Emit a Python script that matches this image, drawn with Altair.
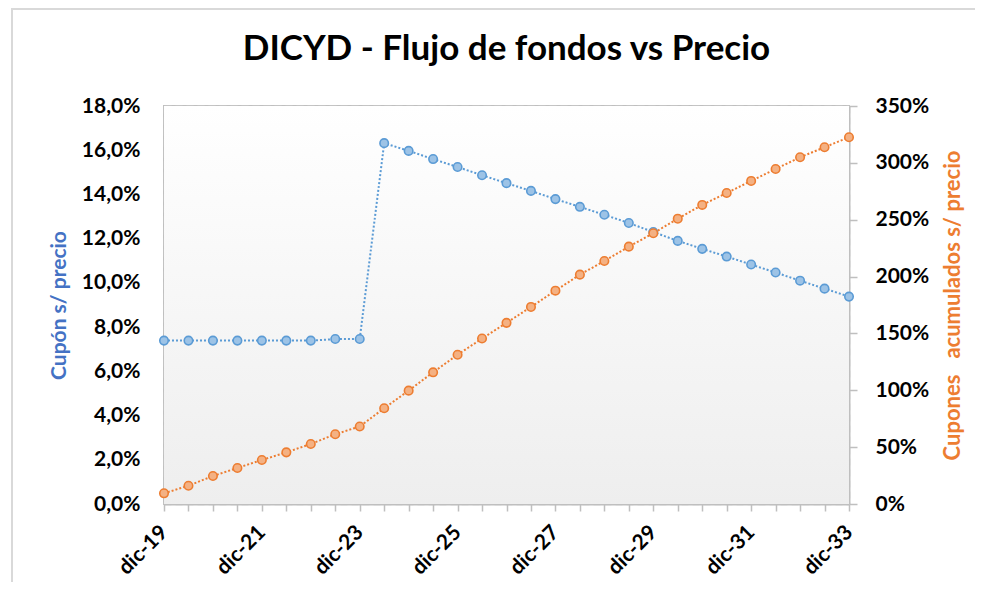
import altair as alt
import pandas as pd

fechas = ["dic-19", "jun-20", "dic-20", "jun-21", "dic-21", "jun-22", "dic-22",
          "jun-23", "dic-23", "jun-24", "dic-24", "jun-25", "dic-25", "jun-26",
          "dic-26", "jun-27", "dic-27", "jun-28", "dic-28", "jun-29", "dic-29",
          "jun-30", "dic-30", "jun-31", "dic-31", "jun-32", "dic-32", "jun-33",
          "dic-33"]

cupon = [7.39, 7.39, 7.39, 7.39, 7.39, 7.39, 7.39, 7.46, 7.46,
         16.32, 15.97, 15.60, 15.24, 14.87, 14.51, 14.16, 13.79, 13.44,
         13.08, 12.71, 12.30, 11.90, 11.54, 11.19, 10.83, 10.47, 10.10,
         9.74, 9.38]

acumulado = [9.4, 16.1, 24.6, 31.7, 38.7, 45.4, 52.8, 61.3, 68.2,
             84.2, 99.7, 115.8, 131.3, 145.5, 159.3, 173.3, 187.6, 201.7,
             213.7, 226.3, 238.1, 250.9, 263.0, 273.5, 284.1, 294.6, 304.9,
             313.7, 322.5]

izq_ticks = [0, 2, 4, 6, 8, 10, 12, 14, 16, 18]
der_ticks = [0, 50, 100, 150, 200, 250, 300, 350]

df = pd.DataFrame({"fecha": fechas, "cupon": cupon, "acum": acumulado})

FONT = "Lato"
W, H = 685, 398
BLUE_L, BLUE_F = "#5b9bd5", "#9dc3e6"
ORG_L, ORG_F = "#ed7d31", "#f4b183"
GRID = "#d4d4d4"
AX = "#bfbfbf"
LFS = 21

major = "(slice(datum.value,0,3)=='dic' && toNumber(slice(datum.value,4))%2==1)"

x_enc = alt.X(
    "fecha:O", sort=fechas,
    scale=alt.Scale(type="point", padding=0),
    axis=alt.Axis(
        title=None, labelAngle=-45, labelAlign="right", labelBaseline="middle",
        labelPadding=18, labelOverlap=False,
        labelExpr=major + " ? datum.value : ''",
        labelFont=FONT, labelFontSize=LFS, labelFontWeight="bold", labelColor="black",
        tickSize=7, tickColor=AX, tickWidth=1.5,
        domainColor=AX, domainWidth=2,
        grid=True, gridColor=GRID, gridDash=[7, 4], gridWidth=1.5,
        gridOpacity={"condition": {"test": major, "value": 1}, "value": 0},
    ),
)

y_left = alt.Y(
    "cupon:Q", scale=alt.Scale(domain=[0, 18], nice=False),
    axis=alt.Axis(
        orient="left", values=izq_ticks,
        labelExpr="replace(format(datum.value,'.1f'),'.',',') + '%'",
        labelFont=FONT, labelFontSize=LFS, labelFontWeight="bold", labelColor="black",
        labelPadding=24, ticks=False,
        domainColor=AX, domainWidth=2,
        grid=True, gridColor=GRID, gridDash=[7, 4], gridWidth=1.5,
        title="Cupón s/ precio", titleColor="#4472c4", titleFont=FONT,
        titleFontSize=21, titleFontWeight="bold", titlePadding=12,
    ),
)

y_right = alt.Y(
    "acum:Q", scale=alt.Scale(domain=[0, 350], nice=False),
    axis=alt.Axis(
        orient="right", values=der_ticks,
        labelExpr="format(datum.value,'.0f') + '%'",
        labelFont=FONT, labelFontSize=LFS, labelFontWeight="bold", labelColor="black",
        labelPadding=18, tickSize=8, tickColor=AX, tickWidth=1.5,
        domainColor=AX, domainWidth=2, grid=False,
        title="Cupones\u00a0\u00a0\u00a0acumulados s/ precio", titleColor=ORG_L, titleFont=FONT,
        titleFontSize=22, titleFontWeight="bold", titlePadding=36, titleAngle=270,
    ),
)

base = alt.Chart(df)

bg = alt.Chart(df).mark_rect(
    fill=alt.LinearGradient(
        gradient="linear", x1=0, x2=0, y1=0, y2=1,
        stops=[alt.GradientStop(offset=0, color="#ffffff"),
               alt.GradientStop(offset=1, color="#eeeeee")],
    )
).encode(x=alt.value(0), x2=alt.value(W), y=alt.value(0), y2=alt.value(H))

border = alt.Chart(df).mark_rect(fill=None, stroke="#d9d9d9", strokeWidth=2).encode(
    x=alt.value(-152), x2=alt.value(840), y=alt.value(-97), y2=alt.value(500)
)

blue = alt.layer(
    base.mark_line(color=BLUE_L, strokeDash=[2, 2], strokeWidth=2).encode(x=x_enc, y=y_left),
    base.mark_circle(fill=BLUE_F, stroke=BLUE_L, strokeWidth=1.6, size=72, opacity=1).encode(x=x_enc, y=y_left),
)

orange = alt.layer(
    base.mark_line(color=ORG_L, strokeDash=[2, 2], strokeWidth=2).encode(x=x_enc, y=y_right),
    base.mark_circle(fill=ORG_F, stroke=ORG_L, strokeWidth=1.6, size=72, opacity=1).encode(x=x_enc, y=y_right),
)

chart = alt.layer(border, bg, blue, orange).resolve_scale(y="independent").properties(
    width=W, height=H,
    autosize=alt.AutoSizeParams(type="none"),
    padding={"left": 156, "top": 98, "right": 126, "bottom": 78},
    title=alt.TitleParams(
        "DICYD - Flujo de fondos vs Precio", font=FONT, fontSize=35, fontWeight="bold",
        color="black", anchor="middle", frame="group", baseline="alphabetic",
        offset=42, dy=129,
    ),
).configure_view(stroke=AX, strokeWidth=2)

chart.save("out.html", embed_options={"renderer": "svg", "actions": False})
